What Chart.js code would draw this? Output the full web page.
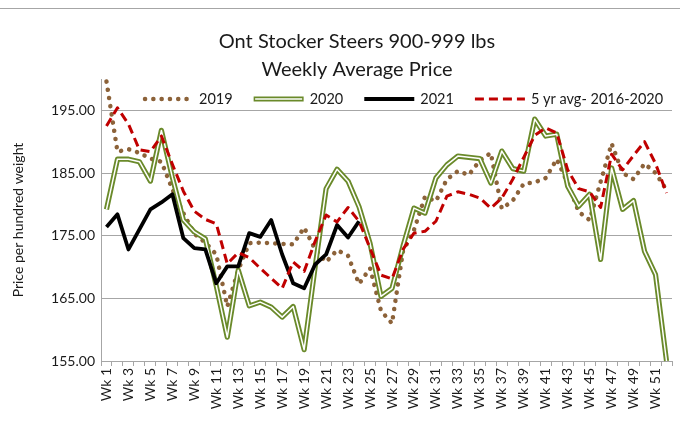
<!DOCTYPE html>
<html><head><meta charset="utf-8">
<script src="https://cdn.jsdelivr.net/npm/chart.js@4.4.1/dist/chart.umd.min.js"></script>
<style>html,body{margin:0;padding:0;background:#fff}#wrap{width:686px;height:431px}</style>
</head><body><div id="wrap"><canvas id="c" width="686" height="431"></canvas></div>
<script>
const weeks = ['Wk 1','Wk 2','Wk 3','Wk 4','Wk 5','Wk 6','Wk 7','Wk 8','Wk 9','Wk 10','Wk 11','Wk 12','Wk 13','Wk 14','Wk 15','Wk 16','Wk 17','Wk 18','Wk 19','Wk 20','Wk 21','Wk 22','Wk 23','Wk 24','Wk 25','Wk 26','Wk 27','Wk 28','Wk 29','Wk 30','Wk 31','Wk 32','Wk 33','Wk 34','Wk 35','Wk 36','Wk 37','Wk 38','Wk 39','Wk 40','Wk 41','Wk 42','Wk 43','Wk 44','Wk 45','Wk 46','Wk 47','Wk 48','Wk 49','Wk 50','Wk 51','Wk 52'];

const y2019 = [199.6,188.4,188.8,188.2,187.3,186.8,182.4,178.6,175.3,173.9,172.0,163.7,169.5,173.8,173.9,173.8,173.7,173.6,176.3,172.8,170.8,172.7,171.8,167.3,169.8,163.0,161.0,172.5,175.9,181.2,180.5,184.0,185.3,184.7,187.0,188.2,179.3,180.6,183.3,183.5,184.2,187.2,183.4,178.8,177.5,183.6,189.7,185.0,184.0,186.5,185.0,182.3];

const y2020 = [179.2,187.2,187.2,186.8,183.7,191.8,184.3,177.5,175.6,174.5,167.0,158.8,169.5,163.8,164.4,163.6,162.0,163.7,156.8,170.0,182.5,185.6,183.7,179.6,173.8,165.3,166.6,173.3,179.4,178.6,184.2,186.3,187.7,187.5,187.3,183.4,188.5,185.7,185.3,193.6,190.9,191.2,182.9,179.7,181.6,171.2,185.8,179.2,180.6,172.5,168.8,155.0];

const y2021 = [176.4,178.4,172.8,176.0,179.2,180.3,181.6,174.6,173.0,172.8,167.4,170.1,170.1,175.4,174.8,177.5,172.0,167.4,166.6,170.4,172.0,176.7,174.7,177.3];

const y5yr = [192.5,195.4,192.8,188.7,188.4,190.9,186.4,182.1,178.9,177.6,176.9,170.5,172.3,171.5,169.8,168.2,166.6,170.8,169.3,174.1,178.3,177.2,179.5,177.3,173.0,168.7,168.1,172.8,175.4,175.7,177.3,181.3,182.0,181.6,181.0,179.4,181.0,184.0,187.5,191.0,192.2,191.4,185.5,182.5,182.0,179.5,188.0,185.5,187.8,190.0,186.5,181.8];

const yTicks = [155, 165, 175, 185, 195];
const titleLines = ['Ont Stocker Steers 900-999 lbs', 'Weekly Average Price'];
const yTitle = 'Price per hundred weight';

const FONT = 'Lato';
const OLIVE = '#6a8a2a', BROWN = '#8c6239', RED = '#c00000';

const datasets = [
  {label:'5 yr avg- 2016-2020', data:y5yr, borderColor:RED, borderWidth:3, borderDash:[9,5], borderCapStyle:'butt', order:0},
  {label:'2021', data:y2021, borderColor:'#000', borderWidth:3.8, order:1},
  {label:'2020', data:y2020, borderColor:'#ffffff', borderWidth:1.5, order:2, inner:true},
  {label:'2020', data:y2020, borderColor:OLIVE, borderWidth:5.2, order:3, outer:true},
  {label:'2019', data:y2019, borderColor:BROWN, borderWidth:4.5, borderDash:[0.1,8.2], borderCapStyle:'round', order:4}
].map(d => Object.assign({pointRadius:0, pointHoverRadius:0, tension:0, fill:false, borderJoinStyle:'round', clip:3}, d));

const legendOrder = ['2019','2020','2021','5 yr avg- 2016-2020'];

const decor = {
  id:'decor',
  beforeDraw(chart){
    const ctx = chart.ctx;
    ctx.save();
    ctx.strokeStyle = '#a6a6a6'; ctx.lineWidth = 1;
    ctx.beginPath(); ctx.moveTo(0, 8.5); ctx.lineTo(680, 8.5); ctx.stroke();
    ctx.restore();
  },
  afterDraw(chart){
    const ctx = chart.ctx;
    ctx.save();
    ctx.fillStyle = '#1a1a1a';
    ctx.font = '20px ' + FONT;
    ctx.textAlign = 'center'; ctx.textBaseline = 'middle';
    ctx.fillText(titleLines[0], 357, 42);
    ctx.fillText(titleLines[1], 357, 70);
    const ly = 99;
    let x = 143;
    ctx.font = '14.5px ' + FONT;
    ctx.textAlign = 'left';
    legendOrder.forEach(lbl => {
      const d = chart.data.datasets.filter(dd => dd.label === lbl && !dd.inner)[0];
      const sx0 = x, sx1 = x + 50;
      ctx.save();
      ctx.lineWidth = d.borderWidth;
      ctx.strokeStyle = d.borderColor;
      ctx.setLineDash(d.borderDash || []);
      ctx.lineCap = d.borderCapStyle || 'butt';
      ctx.beginPath();
      if (lbl === '2019') { ctx.moveTo(sx0 + 2, ly); ctx.lineTo(sx1, ly); }
      else { ctx.moveTo(sx0, ly); ctx.lineTo(sx1, ly); }
      ctx.stroke();
      if (d.outer) {
        ctx.lineWidth = 1.5; ctx.strokeStyle = '#fff';
        ctx.beginPath(); ctx.moveTo(sx0 + 1.5, ly); ctx.lineTo(sx1 - 1.5, ly); ctx.stroke();
      }
      ctx.restore();
      ctx.fillStyle = '#1a1a1a';
      ctx.fillText(lbl, sx1 + 6, ly + 0.5);
      x = sx1 + 6 + ctx.measureText(lbl).width + 21;
    });
    ctx.restore();
  }
};

new Chart(document.getElementById('c'), {
  type:'line',
  data:{labels:weeks, datasets},
  options:{
    responsive:false,
    animation:false,
    devicePixelRatio:1,
    layout:{padding:{top:79, right:14, bottom:0, left:0}},
    plugins:{legend:{display:false}, title:{display:false}, tooltip:{enabled:false}},
    scales:{
      x:{
        offset:true,
        grid:{offset:true, drawOnChartArea:false, drawTicks:true, tickLength:5, color:'#a6a6a6'},
        border:{color:'#a6a6a6', width:1},
        ticks:{autoSkip:false, maxRotation:90, minRotation:90, padding:2, color:'#1a1a1a',
          font:{family:FONT, size:14},
          callback:(v,i)=> (i % 2 === 0 ? weeks[i] : '')},
        afterFit:(s)=>{ s.height = 70; }
      },
      y:{
        min:155, max:200,
        afterBuildTicks:(s)=>{ s.ticks = yTicks.map(v=>({value:v})); },
        grid:{color:'#a6a6a6', lineWidth:1, drawTicks:false},
        border:{color:'#a6a6a6', width:1},
        ticks:{padding:6, color:'#1a1a1a', font:{family:FONT, size:14}, callback:(v)=>Number(v).toFixed(2)},
        title:{display:true, text:yTitle, color:'#1a1a1a', font:{family:FONT, size:14}, padding:{top:10,bottom:0}},
        afterFit:(s)=>{ s.width = 101; }
      }
    }
  },
  plugins:[decor]
});
</script></body></html>
